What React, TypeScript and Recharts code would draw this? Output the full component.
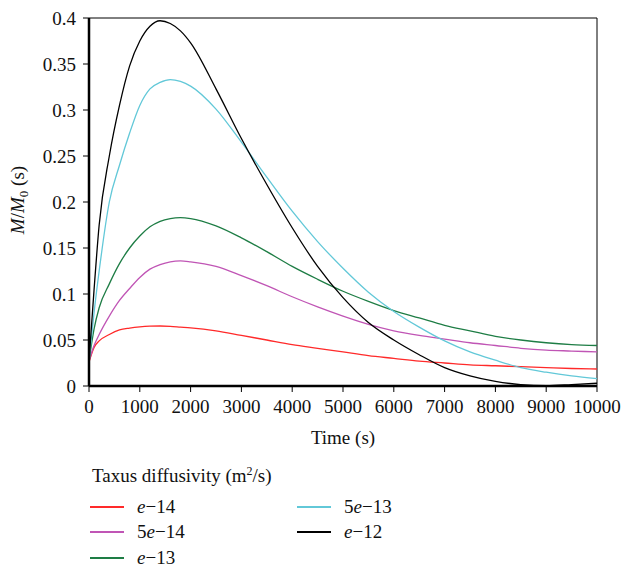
import React from "react";
import { LineChart, Line, XAxis, YAxis, ReferenceLine } from "recharts";

const times = [0, 100, 200, 400, 600, 800, 1000, 1200, 1400, 1600, 1800, 2000, 2500, 3000, 3500, 4000, 4500, 5000, 5500, 6000, 6500, 7000, 7500, 8000, 8500, 9000, 9500, 10000];

const e14 = [0.026, 0.042, 0.049, 0.056, 0.061, 0.063, 0.0643, 0.065, 0.0652, 0.0648, 0.064, 0.0632, 0.06, 0.055, 0.05, 0.045, 0.041, 0.037, 0.033, 0.03, 0.027, 0.025, 0.023, 0.022, 0.021, 0.02, 0.019, 0.0185];
const e5_14 = [0.027, 0.044, 0.056, 0.076, 0.093, 0.106, 0.118, 0.127, 0.132, 0.135, 0.136, 0.135, 0.13, 0.12, 0.109, 0.097, 0.086, 0.076, 0.067, 0.06, 0.055, 0.051, 0.047, 0.044, 0.041, 0.039, 0.038, 0.037];
const e13 = [0.027, 0.062, 0.085, 0.111, 0.133, 0.15, 0.163, 0.173, 0.179, 0.182, 0.183, 0.182, 0.174, 0.161, 0.146, 0.13, 0.116, 0.103, 0.092, 0.082, 0.074, 0.066, 0.06, 0.054, 0.05, 0.047, 0.045, 0.044];
const e5_13 = [0.027, 0.08, 0.125, 0.2, 0.24, 0.275, 0.305, 0.323, 0.33, 0.333, 0.331, 0.326, 0.301, 0.265, 0.227, 0.19, 0.157, 0.128, 0.102, 0.081, 0.064, 0.049, 0.037, 0.028, 0.02, 0.015, 0.011, 0.008];
const e12 = [0.027, 0.105, 0.175, 0.25, 0.305, 0.348, 0.375, 0.391, 0.397, 0.394, 0.386, 0.373, 0.323, 0.269, 0.219, 0.172, 0.13, 0.096, 0.069, 0.05, 0.034, 0.02, 0.011, 0.005, 0.0015, 0.0003, 0.0015, 0.003];

const seriesNames = ["e\u221214", "5e\u221214", "e\u221213", "5e\u221213", "e\u221212"];
const seriesKeys = ["a", "b", "c", "d", "e"];
const seriesColors = ["#ff2a2a", "#c055b5", "#1e7d45", "#62c8d8", "#000000"];
const seriesValues = [e14, e5_14, e13, e5_13, e12];

const xTicks = [0, 1000, 2000, 3000, 4000, 5000, 6000, 7000, 8000, 9000, 10000];
const yTicks = [0, 0.05, 0.1, 0.15, 0.2, 0.25, 0.3, 0.35, 0.4];
const yTickLabels = ["0", "0.05", "0.1", "0.15", "0.2", "0.25", "0.3", "0.35", "0.4"];

const data = times.map((t, i) => {
  const row: any = { t };
  seriesKeys.forEach((k, j) => (row[k] = seriesValues[j][i]));
  return row;
});

const FONT = "'Liberation Serif', 'DejaVu Serif', serif";
const FS = 19;

const YLabel = () => (
  <text x={0} y={0} transform="translate(24,200) rotate(-90)" textAnchor="middle" fontFamily={FONT} fontSize={FS} fill="#111">
    <tspan fontStyle="italic">M</tspan>
    <tspan>/</tspan>
    <tspan fontStyle="italic">M</tspan>
    <tspan fontSize={13} dy={4}>0</tspan>
    <tspan dy={-4}> (s)</tspan>
  </text>
);

const LegendName = ({ name }: { name: string }) => {
  const idx = name.indexOf("e");
  return (
    <span>
      {name.slice(0, idx)}
      <i>e</i>
      {name.slice(idx + 1)}
    </span>
  );
};

export default function App() {
  const legendPos = [
    { left: 90, top: 507 },
    { left: 90, top: 532 },
    { left: 90, top: 558 },
    { left: 297, top: 507 },
    { left: 297, top: 532 },
  ];
  return (
    <div style={{ position: "absolute", left: 0, top: 0, width: 624, height: 571, background: "#fff", fontFamily: FONT }}>
      <LineChart width={624} height={571} data={data} margin={{ top: 18, right: 27, left: 0, bottom: 127 }}>
        <XAxis
          dataKey="t"
          type="number"
          domain={[0, 10000]}
          ticks={xTicks}
          interval={0}
          height={58}
          stroke="#000"
          axisLine={{ stroke: "#000", strokeWidth: 2.5 }}
          tickLine={{ stroke: "#000", strokeWidth: 1 }}
          tickSize={6}
          tickMargin={8}
          tick={{ fontFamily: FONT, fontSize: FS, fill: "#111" }}
          label={{ value: "Time (s)", position: "insideBottom", offset: 0, style: { fontFamily: FONT, fontSize: FS, fill: "#111" } }}
        />
        <YAxis
          type="number"
          domain={[0, 0.4]}
          ticks={yTicks}
          interval={0}
          width={89}
          allowDataOverflow
          stroke="#000"
          axisLine={{ stroke: "#000", strokeWidth: 2.5 }}
          tickLine={{ stroke: "#000", strokeWidth: 1 }}
          tickSize={6}
          tickMargin={7}
          tickFormatter={(v: number) => yTickLabels[yTicks.indexOf(v)] ?? String(v)}
          tick={{ fontFamily: FONT, fontSize: FS, fill: "#111" }}
          label={<YLabel />}
        />
        <ReferenceLine y={0.4} stroke="#000" strokeWidth={1} />
        <ReferenceLine x={10000} stroke="#000" strokeWidth={1} />
        {seriesKeys.map((k, j) => (
          <Line
            key={k}
            dataKey={k}
            name={seriesNames[j]}
            type="monotone"
            stroke={seriesColors[j]}
            strokeWidth={1.3}
            dot={false}
            isAnimationActive={false}
          />
        ))}
      </LineChart>
      <div style={{ position: "absolute", left: 92, top: 459, fontSize: FS, color: "#111", whiteSpace: "nowrap", lineHeight: "24px" }}>
        Taxus diffusivity (m<sup style={{ fontSize: 12 }}>2</sup>/s)
      </div>
      {seriesNames.map((n, j) => (
        <div
          key={n}
          style={{
            position: "absolute",
            left: legendPos[j].left,
            top: legendPos[j].top - 12,
            height: 24,
            display: "flex",
            alignItems: "center",
            fontSize: FS,
            color: "#111",
            whiteSpace: "nowrap",
          }}
        >
          <div style={{ width: 34, height: 2, background: seriesColors[j], marginRight: 13, flex: "none" }} />
          <LegendName name={n} />
        </div>
      ))}
    </div>
  );
}
